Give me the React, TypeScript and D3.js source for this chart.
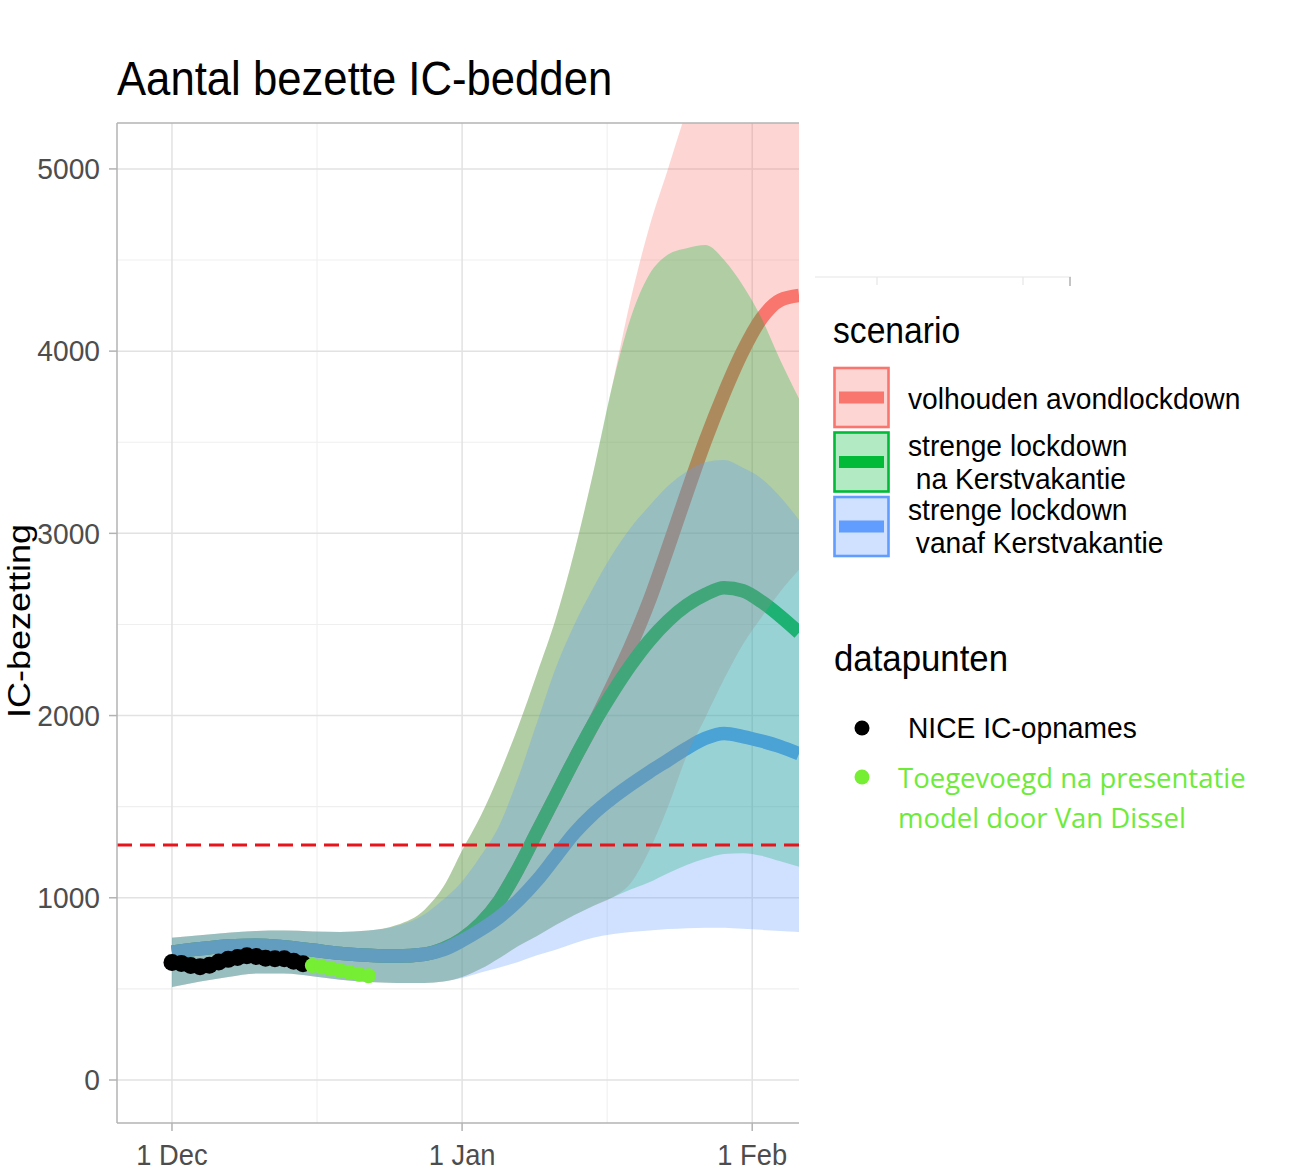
import React from 'react';
import * as d3 from 'd3';

// ---- data (days after 1 Dec 2020) ----
const DAYS = [0, 3, 6, 9, 12, 15, 18, 21, 24, 27, 29, 31, 33, 35, 37, 39, 41, 43, 45, 47, 49, 51, 53, 55, 57, 59, 61, 63, 65, 67];

const RED_LINE = [702, 720, 735, 740, 730, 713, 695, 685, 680, 690, 720, 775, 860, 985, 1160, 1360, 1560, 1760, 1950, 2160, 2380, 2630, 2920, 3220, 3510, 3770, 4000, 4180, 4280, 4305];
const GREEN_LINE = [702, 720, 735, 740, 730, 713, 695, 685, 680, 690, 720, 775, 860, 985, 1160, 1360, 1560, 1760, 1950, 2120, 2275, 2410, 2520, 2605, 2665, 2702, 2685, 2625, 2545, 2455];
const BLUE_LINE = [702, 720, 735, 740, 730, 713, 695, 685, 680, 690, 715, 765, 825, 895, 985, 1095, 1225, 1355, 1460, 1545, 1620, 1690, 1755, 1820, 1875, 1902, 1885, 1860, 1830, 1790];

const RED_UPPER = [780, 795, 808, 818, 820, 815, 812, 820, 850, 935, 1060, 1260, 1450, 1680, 1940, 2230, 2530, 2900, 3330, 3800, 4280, 4680, 5000, 5320, 5580, 5750, 5780, 5750, 5550, 5250];
const RED_LOWER = [510, 540, 565, 585, 585, 570, 550, 538, 533, 532, 540, 565, 610, 670, 735, 790, 850, 905, 955, 1000, 1080, 1260, 1500, 1780, 1990, 2200, 2390, 2540, 2680, 2800];
const GREEN_UPPER = [780, 795, 808, 818, 820, 815, 812, 820, 850, 935, 1060, 1260, 1450, 1680, 1940, 2230, 2530, 2900, 3330, 3800, 4180, 4420, 4530, 4565, 4582, 4500, 4360, 4180, 3950, 3740];
const GREEN_LOWER = [510, 540, 565, 585, 585, 570, 550, 538, 533, 532, 540, 565, 610, 670, 735, 790, 850, 905, 955, 1000, 1045, 1085, 1135, 1180, 1215, 1240, 1245, 1230, 1200, 1170];
const BLUE_UPPER = [780, 795, 808, 818, 820, 815, 812, 820, 845, 910, 990, 1090, 1230, 1400, 1660, 1960, 2260, 2500, 2700, 2880, 3030, 3150, 3260, 3340, 3390, 3403, 3360, 3300, 3200, 3073];
const BLUE_LOWER = [510, 540, 565, 585, 585, 570, 550, 538, 533, 532, 540, 560, 590, 618, 648, 685, 715, 750, 780, 800, 812, 820, 828, 833, 836, 835, 830, 824, 818, 812];

const NICE_DAYS = [0, 1, 2, 3, 4, 5, 6, 7, 8, 9, 10, 11, 12, 13, 14];
const NICE_VALUES = [645, 640, 628, 622, 630, 648, 662, 672, 682, 678, 668, 665, 665, 652, 638];
const ADDED_DAYS = [15, 16, 17, 18, 19, 20, 21];
const ADDED_VALUES = [628, 620, 610, 600, 590, 580, 572];

const THRESHOLD = 1290;

const X_TICK_DATES = ['2020-12-01', '2021-01-01', '2021-02-01'];
const X_TICK_LABELS = ['1 Dec', '1 Jan', '1 Feb'];
const Y_TICKS = [0, 1000, 2000, 3000, 4000, 5000];
const Y_MINOR = [500, 1500, 2500, 3500, 4500];

const SCENARIO_NAMES = ['volhouden avondlockdown', 'strenge lockdown\n na Kerstvakantie', 'strenge lockdown\n vanaf Kerstvakantie'];
const SCENARIO_COLORS = ['#F8766D', '#00BA38', '#619CFF'];

const FONT = "'Liberation Sans', Arial, Helvetica, sans-serif";
const SX = 0.91;

const dayToDate = (d: number) => new Date(Date.UTC(2020, 11, 1) + d * 86400000);

const L = 117, R = 799, TOP = 123, BOT = 1123;

const x = d3.scaleUtc()
  .domain([new Date(Date.UTC(2020, 10, 25, 3)), new Date(Date.UTC(2021, 1, 6))])
  .range([L, R]);
const y = d3.scaleLinear().domain([-236, 5252]).range([BOT, TOP]);

const lineGen = d3.line<[number, number]>()
  .x(p => x(dayToDate(p[0])))
  .y(p => y(p[1]))
  .curve(d3.curveMonotoneX);

const areaGen = d3.area<[number, number, number]>()
  .x(p => x(dayToDate(p[0])))
  .y0(p => y(p[1]))
  .y1(p => y(p[2]))
  .curve(d3.curveMonotoneX);

function T(props: any) {
  const { x: tx, y: ty, size, anchor = 'start', fill = '#000', family = FONT, sx = SX, children } = props;
  const tr = `translate(${tx},${ty}) scale(${sx},1)`;
  return (
    <text transform={tr} fontSize={size} textAnchor={anchor} fill={fill} fontFamily={family} dominantBaseline="central" style={{ whiteSpace: 'pre' }}>
      {children}
    </text>
  );
}

export default function App() {
  const lines = [RED_LINE, GREEN_LINE, BLUE_LINE];
  const uppers = [RED_UPPER, GREEN_UPPER, BLUE_UPPER];
  const lowers = [RED_LOWER, GREEN_LOWER, BLUE_LOWER];

  const xMajor = X_TICK_DATES.map(s => new Date(s + 'T00:00:00Z'));
  const xMinor = [
    new Date((xMajor[0].getTime() + xMajor[1].getTime()) / 2),
    new Date((xMajor[1].getTime() + xMajor[2].getTime()) / 2),
  ];

  return (
    <svg width={1290} height={1175} style={{ position: 'absolute', left: 0, top: 0, display: 'block', background: '#fff' }}>
      <defs>
        <clipPath id="panel">
          <rect x={L} y={TOP} width={R - L} height={BOT - TOP} />
        </clipPath>
      </defs>

      {/* title */}
      <T x={117} y={78} size={48}>Aantal bezette IC-bedden</T>

      {/* grid */}
      <g clipPath="url(#panel)">
        {Y_MINOR.map(v => <line key={'ym' + v} x1={L} x2={R} y1={y(v)} y2={y(v)} stroke="#efefef" strokeWidth={1.1} />)}
        {xMinor.map((d, i) => <line key={'xm' + i} x1={x(d)} x2={x(d)} y1={TOP} y2={BOT} stroke="#efefef" strokeWidth={1.1} />)}
        {Y_TICKS.map(v => <line key={'yM' + v} x1={L} x2={R} y1={y(v)} y2={y(v)} stroke="#e2e2e2" strokeWidth={1.5} />)}
        {xMajor.map((d, i) => <line key={'xM' + i} x1={x(d)} x2={x(d)} y1={TOP} y2={BOT} stroke="#e2e2e2" strokeWidth={1.5} />)}

        {/* scenario lines */}
        {lines.map((vals, i) => (
          <path key={'l' + i} d={lineGen(DAYS.map((d, j) => [d, vals[j]] as [number, number])) || ''}
            fill="none" stroke={SCENARIO_COLORS[i]} strokeWidth={13.5} strokeLinejoin="round" />
        ))}
        {/* ribbons */}
        {uppers.map((up, i) => (
          <path key={'a' + i} d={areaGen(DAYS.map((d, j) => [d, lowers[i][j], up[j]] as [number, number, number])) || ''}
            fill={SCENARIO_COLORS[i]} fillOpacity={0.3} stroke="none" />
        ))}

        {/* threshold */}
        <line x1={L} x2={R} y1={y(THRESHOLD)} y2={y(THRESHOLD)} stroke="#E8141B" strokeWidth={3} strokeDasharray="15 8" />

        {/* observations */}
        {NICE_DAYS.map((d, i) => <circle key={'n' + i} cx={x(dayToDate(d))} cy={y(NICE_VALUES[i])} r={8.5} fill="#000" />)}
        {ADDED_DAYS.map((d, i) => <circle key={'g' + i} cx={x(dayToDate(d))} cy={y(ADDED_VALUES[i])} r={7.5} fill="#76EE33" />)}
      </g>

      {/* panel border */}
      <line x1={L} x2={L} y1={TOP} y2={BOT} stroke="#b3b3b3" strokeWidth={1.5} />
      <line x1={L} x2={R} y1={TOP} y2={TOP} stroke="#b3b3b3" strokeWidth={1.5} />
      <line x1={L} x2={R} y1={BOT} y2={BOT} stroke="#b3b3b3" strokeWidth={1.5} />

      {/* y axis */}
      {Y_TICKS.map(v => (
        <g key={'yt' + v}>
          <line x1={L - 8} x2={L} y1={y(v)} y2={y(v)} stroke="#b3b3b3" strokeWidth={1.5} />
          <T x={100} y={y(v)} size={30} anchor="end" fill="#4d4d4d" sx={0.94}>{String(v)}</T>
        </g>
      ))}
      {/* x axis */}
      {xMajor.map((d, i) => (
        <g key={'xt' + i}>
          <line x1={x(d)} x2={x(d)} y1={BOT} y2={BOT + 8} stroke="#b3b3b3" strokeWidth={1.5} />
          <T x={x(d)} y={1155} size={30} anchor="middle" fill="#4d4d4d">{X_TICK_LABELS[i]}</T>
        </g>
      ))}
      <text transform={`translate(30,621) rotate(-90) scale(1,0.85)`} fontSize={36} textAnchor="middle" fontFamily={FONT} fill="#000">IC-bezetting</text>

      {/* stray artifact */}
      <line x1={815} x2={1071} y1={277} y2={277} stroke="#e6e6e6" strokeWidth={1.2} />
      <line x1={877} x2={877} y1={277} y2={285} stroke="#e6e6e6" strokeWidth={1.2} />
      <line x1={1023} x2={1023} y1={277} y2={285} stroke="#e6e6e6" strokeWidth={1.2} />
      <line x1={1070} x2={1070} y1={277} y2={286} stroke="#b0b0b0" strokeWidth={1.5} />

      {/* legend: scenario */}
      <T x={833} y={330} size={37}>scenario</T>
      {SCENARIO_NAMES.map((name, i) => {
        const top = 368 + i * 64.5;
        const h = 59;
        const cy = top + h / 2;
        const parts = name.split('\n');
        return (
          <g key={'lg' + i}>
            <rect x={834.5} y={top} width={54} height={h} fill={SCENARIO_COLORS[i]} fillOpacity={0.3} stroke={SCENARIO_COLORS[i]} strokeWidth={2.6} />
            <line x1={839} x2={884} y1={cy} y2={cy} stroke={SCENARIO_COLORS[i]} strokeWidth={12} />
            {parts.length === 1
              ? <T x={908} y={cy + 1} size={30} sx={0.94}>{parts[0]}</T>
              : parts.map((p, k) => <T key={k} x={908} y={cy - 16.5 + k * 33} size={30} sx={0.94}>{p}</T>)}
          </g>
        );
      })}

      {/* legend: datapunten */}
      <T x={834} y={659} size={37} sx={0.94}>datapunten</T>
      <circle cx={862} cy={728} r={7.5} fill="#000" />
      <T x={908} y={728} size={30} sx={0.94}>NICE IC-opnames</T>
      <circle cx={862} cy={777} r={7.5} fill="#76EE33" />
      <T x={898} y={777} size={27.5} fill="#6EEB3A" family="'Open Sans', 'Noto Sans', sans-serif" sx={1}>Toegevoegd na presentatie</T>
      <T x={898} y={817} size={27.5} fill="#6EEB3A" family="'Open Sans', 'Noto Sans', sans-serif" sx={1}>model door Van Dissel</T>
    </svg>
  );
}
